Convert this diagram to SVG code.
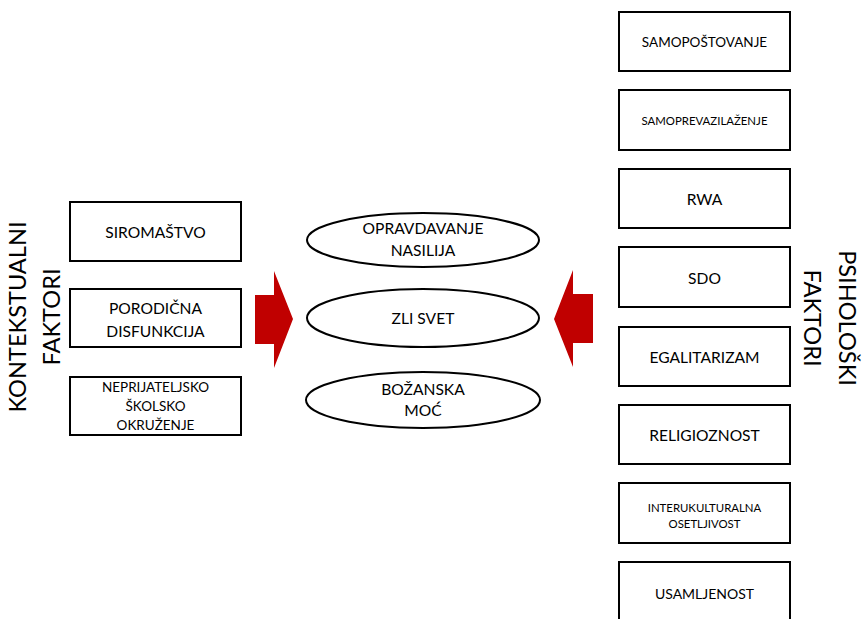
<svg xmlns="http://www.w3.org/2000/svg" width="864" height="619" viewBox="0 0 864 619">
<style>
.box{fill:#fff;stroke:#000;stroke-width:2}
.ell{fill:#fff;stroke:#000;stroke-width:2}
.arr{fill:#C00000}
text{font-family:Lato,"Open Sans","Liberation Sans",sans-serif;fill:#000;text-anchor:middle;dominant-baseline:central}
.t15{font-size:15.6px}
.t14{font-size:14px}
.t13{font-size:13.5px}
.t11{font-size:11.4px}
.big{font-size:23.6px}
</style>
<rect width="864" height="619" fill="#fff"/>
<g id="label-left">
<text class="big" transform="translate(17,317) rotate(-90)">KONTEKSTUALNI</text>
<text class="big" transform="translate(51,317) rotate(-90)">FAKTORI</text>
</g>
<g id="label-right">
<text class="big" transform="translate(848,318) rotate(90)">PSIHOLOŠKI</text>
<text class="big" transform="translate(813,318) rotate(90)">FAKTORI</text>
</g>
<g id="siromastvo"><rect class="box" x="70" y="202" width="171" height="59"/><text class="t15" x="155.5" y="232">SIROMAŠTVO</text></g>
<g id="porodicna"><rect class="box" x="70" y="289" width="171" height="58"/><text class="t15" x="155.5" y="308">PORODIČNA</text><text class="t15" x="155.5" y="331">DISFUNKCIJA</text></g>
<g id="neprijateljsko"><rect class="box" x="70" y="377" width="171" height="58"/><text class="t13" x="155.5" y="387">NEPRIJATELJSKO</text><text class="t13" x="155.5" y="406">ŠKOLSKO</text><text class="t13" x="155.5" y="425">OKRUŽENJE</text></g>
<g id="opravdavanje"><ellipse class="ell" cx="423" cy="240" rx="116" ry="27"/><text class="t15" x="423" y="228">OPRAVDAVANJE</text><text class="t15" x="423" y="250">NASILIJA</text></g>
<g id="zli-svet"><ellipse class="ell" cx="423" cy="318" rx="116" ry="29"/><text class="t15" x="423" y="318">ZLI SVET</text></g>
<g id="bozanska"><ellipse class="ell" cx="423" cy="400" rx="117" ry="28"/><text class="t15" x="423" y="389">BOŽANSKA</text><text class="t15" x="423" y="410">MOĆ</text></g>
<g id="samopostovanje"><rect class="box" x="619" y="12" width="171" height="59"/><text class="t13" x="704.5" y="42">SAMOPOŠTOVANJE</text></g>
<g id="samoprevazilazenje"><rect class="box" x="619" y="90" width="171" height="60"/><text class="t11" x="704.5" y="120">SAMOPREVAZILAŽENJE</text></g>
<g id="rwa"><rect class="box" x="619" y="169" width="171" height="59"/><text class="t15" x="704.5" y="199">RWA</text></g>
<g id="sdo"><rect class="box" x="619" y="247" width="171" height="60"/><text class="t15" x="704.5" y="278">SDO</text></g>
<g id="egalitarizam"><rect class="box" x="619" y="327" width="171" height="59"/><text class="t15" x="704.5" y="357">EGALITARIZAM</text></g>
<g id="religioznost"><rect class="box" x="619" y="405" width="171" height="59"/><text class="t15" x="704.5" y="435">RELIGIOZNOST</text></g>
<g id="interkulturalna"><rect class="box" x="619" y="483" width="171" height="60"/><text class="t11" x="704.5" y="507">INTERUKULTURALNA</text><text class="t11" x="704.5" y="523">OSETLJIVOST</text></g>
<g id="usamljenost"><rect class="box" x="619" y="562" width="171" height="60"/><text class="t14" x="704.5" y="593">USAMLJENOST</text></g>
<g id="connectors">
<polygon class="arr" points="255,295 274,295 274,271 293,319 274,368 274,344 255,344"/>
<polygon class="arr" points="593,294 573,294 573,270 554,319 573,367 573,343 593,343"/>
</g>
</svg>
